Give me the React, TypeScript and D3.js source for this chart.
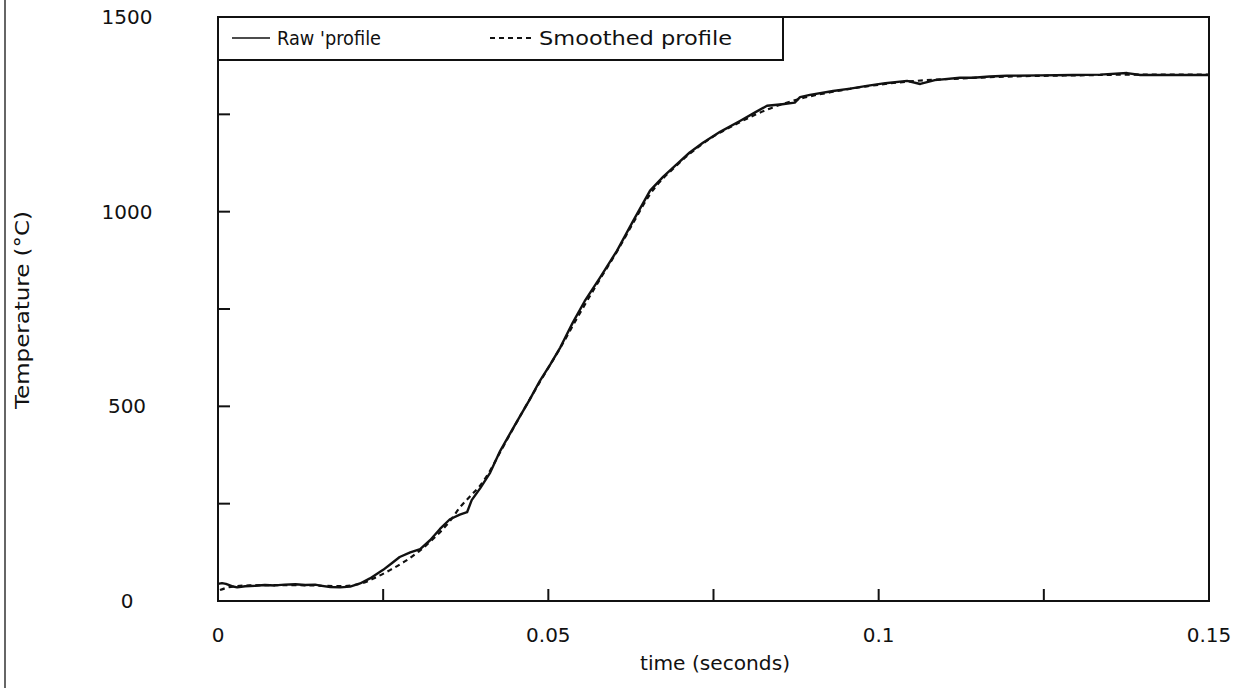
import React from "react";
import * as d3 from "d3";

// time (s) and temperature (°C)
const rawTime = [0, 0.0006, 0.0012, 0.0021, 0.0029, 0.0041, 0.0056, 0.0071, 0.0086, 0.0101, 0.0117, 0.0132, 0.0147, 0.0157, 0.017, 0.0185, 0.02, 0.0215, 0.023, 0.025, 0.0263, 0.0275, 0.0291, 0.0306, 0.0321, 0.0336, 0.0351, 0.0366, 0.0377, 0.0384, 0.0397, 0.0412, 0.0427, 0.0442, 0.0457, 0.0472, 0.0487, 0.0503, 0.0518, 0.0537, 0.0555, 0.0578, 0.0604, 0.0628, 0.0654, 0.0674, 0.0695, 0.0714, 0.0734, 0.076, 0.079, 0.0813, 0.0831, 0.0854, 0.0873, 0.0881, 0.0896, 0.0931, 0.0957, 0.0982, 0.101, 0.1043, 0.1063, 0.1085, 0.1123, 0.1143, 0.1168, 0.1194, 0.1244, 0.1294, 0.1335, 0.1376, 0.1396, 0.1441, 0.15];
const rawTemp = [44, 46, 44, 38, 35, 38, 39, 41, 40, 42, 43, 41, 42, 39, 36, 35, 37, 45, 58, 80, 97, 113, 125, 133, 156, 185, 210, 222, 228, 259, 290, 330, 385, 430, 474, 518, 565, 608, 651, 715, 770, 830, 900, 975, 1054, 1090, 1123, 1152, 1177, 1205, 1233, 1255, 1272, 1276, 1280, 1294, 1300, 1310, 1316, 1323, 1330, 1336, 1328, 1338, 1344, 1344, 1347, 1349, 1350, 1351, 1352, 1356, 1351, 1351, 1351];

const smoothTime = [0.0003, 0.0011, 0.0026, 0.0048, 0.0094, 0.014, 0.0185, 0.0215, 0.0238, 0.0261, 0.0284, 0.0306, 0.0329, 0.0351, 0.0366, 0.0381, 0.0397, 0.0412, 0.0427, 0.0457, 0.0487, 0.0518, 0.0548, 0.0578, 0.0604, 0.0628, 0.0654, 0.0695, 0.0734, 0.079, 0.0831, 0.0881, 0.0931, 0.0982, 0.1043, 0.1123, 0.1194, 0.1294, 0.1396, 0.15];
const smoothTemp = [28, 33, 38, 40, 41, 40, 38, 44, 60, 80, 103, 130, 165, 205, 240, 268, 297, 335, 382, 474, 562, 650, 740, 826, 898, 970, 1045, 1120, 1175, 1230, 1262, 1290, 1308, 1322, 1334, 1342, 1347, 1350, 1352, 1352];

const xTicks = [0, 0.025, 0.05, 0.075, 0.1, 0.125, 0.15];
const xTickLabels = ["0", "", "0.05", "", "0.1", "", "0.15"];
const yTicks = [0, 250, 500, 750, 1000, 1250, 1500];
const yTickLabels = ["0", "", "500", "", "1000", "", "1500"];

const legendLabels = ["Raw 'profile", "Smoothed profile"];

const W = 1238;
const H = 688;
const L = 218, R = 1209, T = 17, B = 601;
const FONT = "'DejaVu Sans', sans-serif";
const INK = "#111";
const FS = 20;

export default function App() {
  const x = d3.scaleLinear().domain([0, 0.15]).range([L, R]);
  const y = d3.scaleLinear().domain([0, 1500]).range([B, T]);

  const rawData = rawTime.map((t, i) => [t, rawTemp[i]] as [number, number]);
  const smoothData = smoothTime.map((t, i) => [t, smoothTemp[i]] as [number, number]);
  const line = d3.line<[number, number]>().x((d) => x(d[0])).y((d) => y(d[1]));
  const smoothLine = d3
    .line<[number, number]>()
    .x((d) => x(d[0]))
    .y((d) => y(d[1]))
    .curve(d3.curveMonotoneX);

  return (
    <svg
      width={W}
      height={H}
      style={{ position: "absolute", left: 0, top: 0, background: "#fff" }}
      fontFamily={FONT}
    >
      <rect x={0} y={0} width={W} height={H} fill="#fff" />
      {/* page edge */}
      <line x1={5} x2={5} y1={0} y2={H} stroke="#333" strokeWidth={1.5} />

      {/* curves */}
      <path d={smoothLine(smoothData) || ""} fill="none" stroke={INK} strokeWidth={2.2} strokeDasharray="5,4" />
      <path d={line(rawData) || ""} fill="none" stroke={INK} strokeWidth={2.4} strokeLinejoin="round" />

      {/* frame */}
      <rect x={L} y={T} width={R - L} height={B - T} fill="none" stroke={INK} strokeWidth={2} />

      {/* y ticks */}
      {yTicks.map((v, i) => (
        <g key={"y" + i}>
          {v > 0 && v < 1500 && (
            <line x1={L} x2={L + 12} y1={y(v)} y2={y(v)} stroke={INK} strokeWidth={2} />
          )}
          {yTickLabels[i] && (
            <text x={127} y={y(v)} dy="0.35em" textAnchor="middle" fontSize={FS} fill={INK}>
              {yTickLabels[i]}
            </text>
          )}
        </g>
      ))}

      {/* x ticks */}
      {xTicks.map((v, i) => (
        <g key={"x" + i}>
          {v > 0 && v < 0.15 && (
            <line x1={x(v)} x2={x(v)} y1={B} y2={B - 12} stroke={INK} strokeWidth={2} />
          )}
          {xTickLabels[i] && (
            <text x={x(v)} y={635} dy="0.35em" textAnchor="middle" fontSize={FS} fill={INK}>
              {xTickLabels[i]}
            </text>
          )}
        </g>
      ))}

      {/* axis titles */}
      <text x={715} y={663} dy="0.35em" textAnchor="middle" fontSize={FS} fill={INK} textLength={150} lengthAdjust="spacingAndGlyphs">
        time (seconds)
      </text>
      <text
        transform={`translate(22, 310) rotate(-90)`}
        dy="0.35em"
        textAnchor="middle"
        fontSize={FS}
        fill={INK}
        textLength={198}
        lengthAdjust="spacingAndGlyphs"
      >
        Temperature (°C)
      </text>

      {/* legend */}
      <rect x={L} y={T} width={783 - L} height={60 - T} fill="#fff" stroke={INK} strokeWidth={2} />
      <line x1={232} x2={270} y1={38} y2={38} stroke={INK} strokeWidth={1.6} />
      <text x={277} y={38} dy="0.35em" fontSize={FS} fill={INK} textLength={104} lengthAdjust="spacingAndGlyphs">
        {legendLabels[0]}
      </text>
      <line x1={490} x2={531} y1={38} y2={38} stroke={INK} strokeWidth={2} strokeDasharray="5,4" />
      <text x={539} y={38} dy="0.35em" fontSize={FS} fill={INK} textLength={193} lengthAdjust="spacingAndGlyphs">
        {legendLabels[1]}
      </text>
    </svg>
  );
}
